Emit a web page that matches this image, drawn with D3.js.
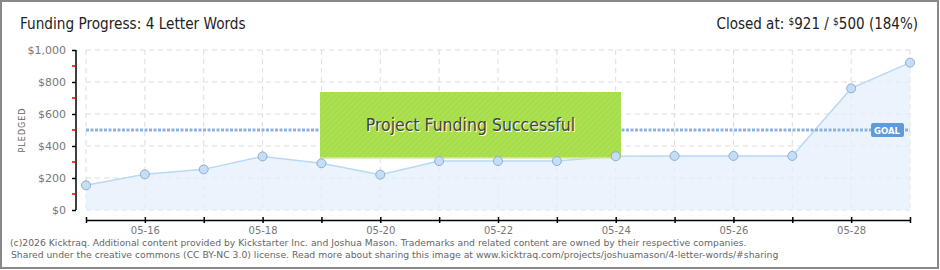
<!DOCTYPE html>
<html lang="en">
<head>
<meta charset="UTF-8" />
<title>Funding Progress: 4 Letter Words</title>
<script src="https://d3js.org/d3.v7.min.js"></script>
<style>
  body { margin: 0; background: #fff; }
  svg { display: block; }
  .tick-label { font-family: "DejaVu Sans", sans-serif; fill: #777; }
</style>
</head>
<body>
<svg width="940" height="270"></svg>
<script>
  // data
  const days = ["05-15", "05-16", "05-17", "05-18", "05-19", "05-20", "05-21",
    "05-22", "05-23", "05-24", "05-25", "05-26", "05-27", "05-28", "05-29"];
  const pledged = [154, 223, 254, 335, 292, 221, 306, 306, 306, 336, 338, 338, 338, 760, 921];
  const goal = 500;
  const yTicks = [0, 200, 400, 600, 800, 1000];
  const yMinor = [100, 300, 500, 700, 900];
  const labelDays = ["05-16", "05-18", "05-20", "05-22", "05-24", "05-26", "05-28"];

  const svg = d3.select("svg");
  const plotL = 86, plotR = 910, plotT = 50, plotB = 210;

  const x = d3.scalePoint().domain(days).range([plotL, plotR]);
  const y = d3.scaleLinear().domain([0, 1000]).range([plotB, plotT]);

  // frame
  svg.append("rect").attr("x", 1).attr("y", 1).attr("width", 937).attr("height", 267)
    .attr("fill", "#fff").attr("stroke", "#888").attr("stroke-width", 2);

  // titles
  svg.append("text").attr("x", 20).attr("y", 29)
    .attr("font-family", "'DejaVu Sans Condensed', 'DejaVu Sans', sans-serif")
    .attr("font-size", 15.2).attr("fill", "#222")
    .text("Funding Progress: 4 Letter Words");
  const closed = svg.append("text").attr("x", 918).attr("y", 29).attr("text-anchor", "end")
    .attr("font-family", "'DejaVu Sans Condensed', 'DejaVu Sans', sans-serif")
    .attr("font-size", 15).attr("fill", "#222");
  closed.append("tspan").text("Closed at:  ");
  closed.append("tspan").attr("font-size", 10).attr("dy", -4).text("$");
  closed.append("tspan").attr("dy", 4).text("921 /  ");
  closed.append("tspan").attr("font-size", 10).attr("dy", -4).text("$");
  closed.append("tspan").attr("dy", 4).text("500 (184%)");

  // grid
  const grid = svg.append("g").attr("stroke", "#ddd").attr("stroke-dasharray", "5,4").attr("stroke-width", 1);
  grid.selectAll(".v").data(days).enter().append("line")
    .attr("x1", d => x(d)).attr("x2", d => x(d)).attr("y1", plotT).attr("y2", plotB);
  grid.selectAll(".h").data(yTicks).enter().append("line")
    .attr("x1", plotL).attr("x2", plotR).attr("y1", d => y(d)).attr("y2", d => y(d));

  // area + line
  const pts = days.map((d, i) => ({ day: d, v: pledged[i] }));
  svg.append("path").datum(pts)
    .attr("fill", "#e4f0fc").attr("fill-opacity", 0.75)
    .attr("d", d3.area().x(d => x(d.day)).y0(plotB).y1(d => y(d.v)));
  svg.append("path").datum(pts)
    .attr("fill", "none").attr("stroke", "#b9d8f6").attr("stroke-width", 1.5)
    .attr("d", d3.line().x(d => x(d.day)).y(d => y(d.v)));

  // goal line
  svg.append("line").attr("x1", plotL).attr("x2", plotR).attr("y1", y(goal)).attr("y2", y(goal))
    .attr("stroke", "#8eb2dc").attr("stroke-width", 3).attr("stroke-dasharray", "3,1.5");

  // success box
  const bx = 320, bw = 301, by = 92, bh = 66;
  const pat = svg.append("defs").append("pattern").attr("id", "stripes")
    .attr("width", 4).attr("height", 4).attr("patternUnits", "userSpaceOnUse")
    .attr("patternTransform", "rotate(45)");
  pat.append("rect").attr("width", 4).attr("height", 4).attr("fill", "#abe04f");
  pat.append("rect").attr("width", 1).attr("height", 4).attr("fill", "#a3d94a");
  svg.append("rect").attr("x", bx).attr("y", by).attr("width", bw).attr("height", bh)
    .attr("fill", "url(#stripes)");
  svg.append("line").attr("x1", bx).attr("x2", bx + bw).attr("y1", by + bh).attr("y2", by + bh)
    .attr("stroke", "#d6e8a6").attr("stroke-width", 1.5);
  const msg = "Project Funding Successful";
  svg.append("text").attr("x", bx + bw / 2 + 1).attr("y", by + bh / 2 + 7).attr("text-anchor", "middle")
    .attr("font-family", "'DejaVu Sans Condensed', 'DejaVu Sans', sans-serif").attr("font-size", 17.5)
    .attr("fill", "#fff").text(msg);
  svg.append("text").attr("x", bx + bw / 2).attr("y", by + bh / 2 + 6).attr("text-anchor", "middle")
    .attr("font-family", "'DejaVu Sans Condensed', 'DejaVu Sans', sans-serif").attr("font-size", 17.5)
    .attr("fill", "#444").text(msg);

  // points
  svg.selectAll(".dot").data(pts).enter().append("circle")
    .attr("cx", d => x(d.day)).attr("cy", d => y(d.v)).attr("r", 4.5)
    .attr("fill", "#c4def8").attr("stroke", "#93abc8").attr("stroke-width", 1);

  // goal badge
  svg.append("rect").attr("x", 871).attr("y", 123).attr("width", 33).attr("height", 14).attr("rx", 2)
    .attr("fill", "#5d9bdb");
  svg.append("text").attr("x", 887).attr("y", 133.5).attr("text-anchor", "middle")
    .attr("font-family", "'DejaVu Sans', sans-serif").attr("font-size", 8.5).attr("font-weight", "bold")
    .attr("fill", "#fff").text("GOAL");

  // y axis
  const yAxis = svg.append("g").attr("transform", `translate(76,0)`)
    .call(d3.axisLeft(y).tickValues(yTicks).tickSize(4).tickPadding(6).tickFormat(d => "$" + d3.format(",")(d)));
  yAxis.select(".domain").attr("stroke", "#000").attr("stroke-width", 1.5).attr("d", `M0,${plotT}V${plotB}`);
  yAxis.selectAll(".tick line").attr("stroke", "#000").attr("stroke-width", 1.5);
  yAxis.selectAll(".tick text").attr("class", "tick-label").attr("font-size", 11)
    .attr("fill", "#777");
  svg.selectAll(".minor").data(yMinor).enter().append("line")
    .attr("x1", 72).attr("x2", 76).attr("y1", d => y(d)).attr("y2", d => y(d))
    .attr("stroke", "#e00").attr("stroke-width", 1.5);
  svg.append("text").attr("transform", "translate(25,130) rotate(-90)").attr("text-anchor", "middle")
    .attr("font-family", "'DejaVu Sans', sans-serif").attr("font-size", 8).attr("letter-spacing", 1)
    .attr("fill", "#666").text("PLEDGED");

  // x axis
  const xAxis = svg.append("g").attr("transform", "translate(0,220)")
    .call(d3.axisBottom(x).tickSizeInner(5).tickSizeOuter(0).tickPadding(2)
      .tickFormat(d => labelDays.includes(d) ? d : ""));
  xAxis.select(".domain").attr("stroke", "#000").attr("stroke-width", 1.5);
  xAxis.selectAll(".tick line").attr("stroke", "#000").attr("stroke-width", 1.5).attr("y1", -3).attr("y2", 3);
  xAxis.selectAll(".tick text").attr("class", "tick-label").attr("font-size", 10).attr("fill", "#777");

  // footer
  const foot = svg.append("g").attr("font-family", "'DejaVu Sans', sans-serif").attr("font-size", 9.25)
    .attr("fill", "#666");
  foot.append("text").attr("x", 10).attr("y", 246)
    .text("(c)2026 Kicktraq. Additional content provided by Kickstarter Inc. and Joshua Mason. Trademarks and related content are owned by their respective companies.");
  foot.append("text").attr("x", 11).attr("y", 258)
    .text("Shared under the creative commons (CC BY-NC 3.0) license. Read more about sharing this image at www.kicktraq.com/projects/joshuamason/4-letter-words/#sharing");
</script>
</body>
</html>
